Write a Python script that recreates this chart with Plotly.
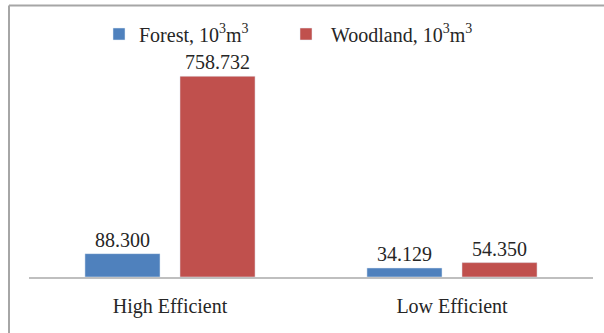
import plotly.graph_objects as go

categories = ["High Efficient", "Low Efficient"]
forest = [88.300, 34.129]
woodland = [758.732, 54.350]
series_names = ["Forest, 10<sup>3</sup>m<sup>3</sup>", "Woodland, 10<sup>3</sup>m<sup>3</sup>"]
colors = ["#4F81BD", "#C0504D"]

W, H = 604, 333
ml, mr, mt, mb = 29, 11, 60, 56
pw, ph = W - ml - mr, H - mt - mb

def px_x(p):
    return (p - ml) / pw

def px_y(p):
    return (H - mb - p) / ph

font = dict(family="Liberation Serif, Times New Roman, serif", size=20, color="#262626")

fig = go.Figure()
for i, (name, vals, c) in enumerate(zip(series_names, [forest, woodland], colors)):
    fig.add_trace(go.Bar(
        x=categories, y=vals, name=name, marker_color=c,
        text=[f"{v:.3f}" for v in vals], textposition="outside",
        textfont=font, cliponaxis=False,
        legend="legend" if i == 0 else "legend2",
    ))

fig.update_layout(
    width=W, height=H,
    margin=dict(l=ml, r=mr, t=mt, b=mb),
    paper_bgcolor="white", plot_bgcolor="white",
    barmode="group", bargap=0.326, bargroupgap=0.21,
    font=font,
    showlegend=True,
    legend=dict(orientation="h", x=px_x(99), xanchor="left", y=px_y(34), yanchor="middle",
                font=font, itemwidth=30, bgcolor="rgba(0,0,0,0)"),
    legend2=dict(orientation="h", x=px_x(281), xanchor="left", y=px_y(34), yanchor="middle",
                 font=font, itemwidth=40, bgcolor="rgba(0,0,0,0)"),
    xaxis=dict(showline=True, linecolor="#BFBFBF", linewidth=2, ticks="outside",
               ticklen=10, tickcolor="rgba(0,0,0,0)", tickfont=font, showgrid=False),
    yaxis=dict(range=[0, 820], visible=False, showgrid=False, zeroline=False),
    shapes=[
        dict(type="line", xref="paper", yref="paper", x0=px_x(9), x1=px_x(W + 2),
             y0=px_y(5.5), y1=px_y(5.5), line=dict(color="#A6A6A6", width=2)),
        dict(type="line", xref="paper", yref="paper", x0=px_x(9), x1=px_x(9),
             y0=px_y(5.5), y1=px_y(H + 2), line=dict(color="#A6A6A6", width=2)),
    ],
)

fig.write_html("out.html")
